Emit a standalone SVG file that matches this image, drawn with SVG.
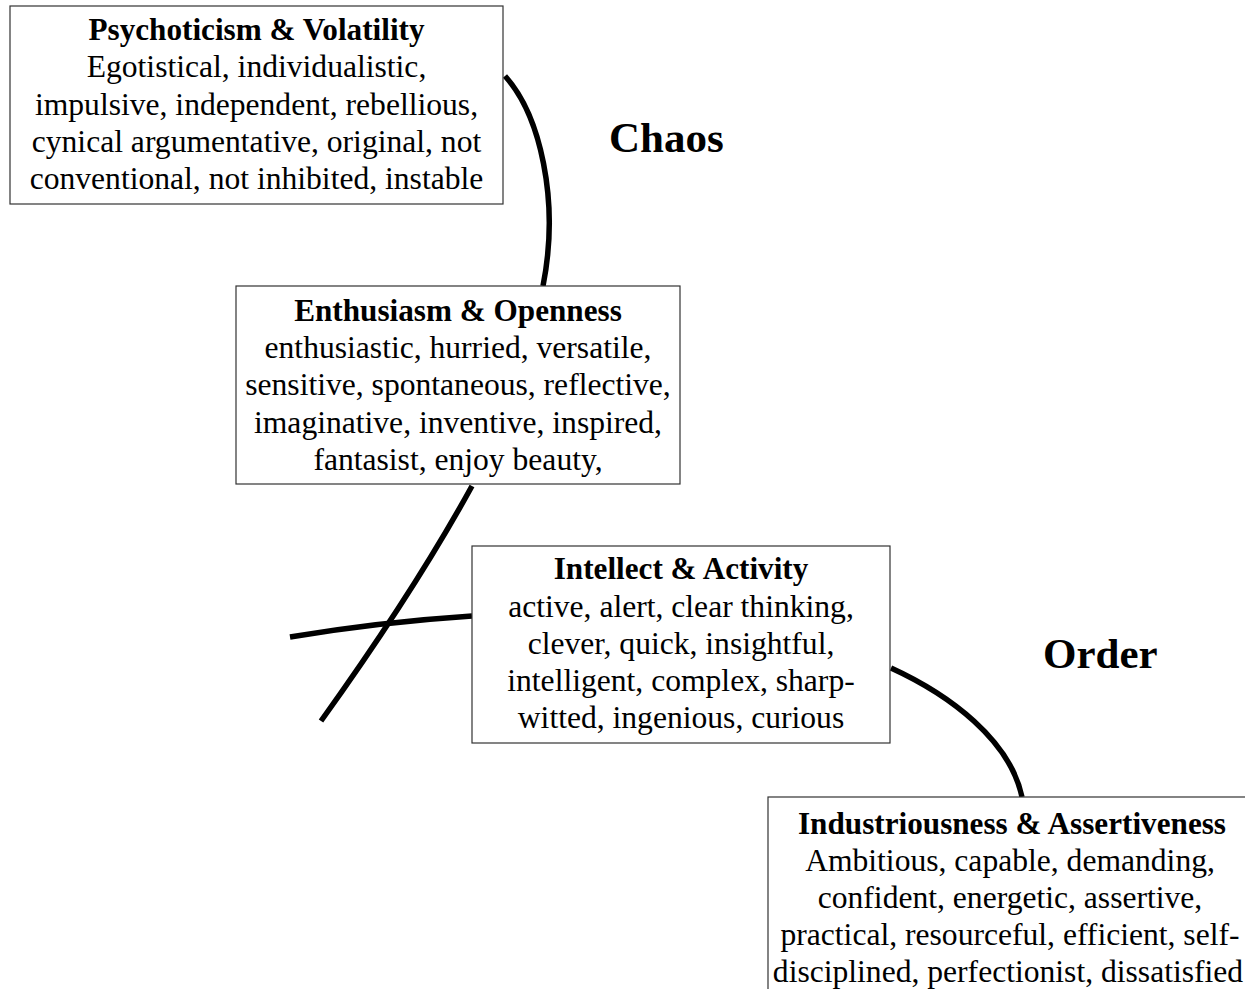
<svg xmlns="http://www.w3.org/2000/svg" width="1245" height="989" viewBox="0 0 1245 989">
<style>
.box{fill:#fff;stroke:#333;stroke-width:1.2}
.t{font-family:"Liberation Serif","Times New Roman",serif;font-size:31.6px;text-anchor:middle;fill:#000}
.h{font-weight:bold;font-size:31.2px}
.big{font-family:"Liberation Serif","Times New Roman",serif;font-size:43px;font-weight:bold;fill:#000}
.c{fill:none;stroke:#000;stroke-width:5.5}
</style>
<rect width="1245" height="989" fill="#fff"/>
<g id="connectors">
<path class="c" d="M505,76 C540,115 560,200 543,286"/>
<path class="c" d="M472,486 Q415,590 321,721"/>
<path class="c" d="M472,616 Q380,622 290,637"/>
<path class="c" d="M891,668 C950,695 1010,740 1022,797"/>
</g>
<g id="psychoticism">
<rect class="box" x="10" y="6" width="493" height="198"/>
<text class="t h" x="256.5" y="40">Psychoticism &amp; Volatility</text>
<text class="t" x="256.5" y="77">Egotistical, individualistic,</text>
<text class="t" x="256.5" y="115">impulsive, independent, rebellious,</text>
<text class="t" x="256.5" y="152">cynical argumentative, original, not</text>
<text class="t" x="256.5" y="189">conventional, not inhibited, instable</text>
</g>
<g id="enthusiasm">
<rect class="box" x="236" y="286" width="444" height="198"/>
<text class="t h" x="458" y="321">Enthusiasm &amp; Openness</text>
<text class="t" x="458" y="358">enthusiastic, hurried, versatile,</text>
<text class="t" x="458" y="395">sensitive, spontaneous, reflective,</text>
<text class="t" x="458" y="433">imaginative, inventive, inspired,</text>
<text class="t" x="458" y="470">fantasist, enjoy beauty,</text>
</g>
<g id="intellect">
<rect class="box" x="472" y="546" width="418" height="197"/>
<text class="t h" x="681" y="579">Intellect &amp; Activity</text>
<text class="t" x="681" y="617">active, alert, clear thinking,</text>
<text class="t" x="681" y="654">clever, quick, insightful,</text>
<text class="t" x="681" y="691">intelligent, complex, sharp-</text>
<text class="t" x="681" y="728">witted, ingenious, curious</text>
</g>
<g id="industriousness">
<rect class="box" x="768" y="797" width="490" height="200"/>
<text class="t h" x="1012" y="834">Industriousness &amp; Assertiveness</text>
<text class="t" x="1010" y="871">Ambitious, capable, demanding,</text>
<text class="t" x="1010" y="908">confident, energetic, assertive,</text>
<text class="t" x="1010" y="945">practical, resourceful, efficient, self-</text>
<text class="t" x="1008" y="982">disciplined, perfectionist, dissatisfied</text>
</g>
<g id="labels">
<text class="big" x="609" y="152">Chaos</text>
<text class="big" x="1043" y="668">Order</text>
</g>
</svg>
